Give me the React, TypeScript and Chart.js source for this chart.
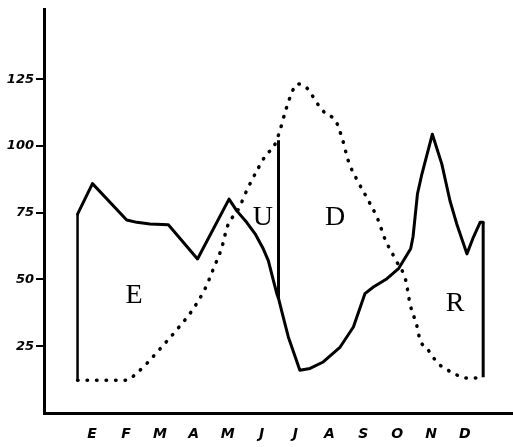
import React, { useEffect, useRef } from "react";
import { Chart, registerables } from "chart.js";

Chart.register(...registerables);

// Month initials (Spanish): Enero ... Diciembre
const months = ["E", "F", "M", "A", "M", "J", "J", "A", "S", "O", "N", "D"];
const yTickValues = [25, 50, 75, 100, 125];

// Solid curve (month position, value)
const precipX = [
  0.57, 1.01, 2.02, 2.32, 2.71, 3.25, 4.11, 5.04, 5.27, 5.56, 5.81, 6.05, 6.2,
  6.35, 6.45, 6.5, 6.64, 6.79, 7.13, 7.43, 7.82, 8.32, 8.71, 9.05, 9.3, 9.7,
  10.05, 10.4, 10.47, 10.6, 10.73, 11.04, 11.32, 11.56, 11.76, 12.06, 12.25,
  12.45, 12.54,
];
const precipY = [
  74.5, 85.9, 72.3, 71.4, 70.8, 70.5, 57.7, 80.1, 75.7, 71.4, 67.1, 61.5, 57.1,
  49.6, 44.7, 42.9, 35.9, 28.5, 16.0, 16.7, 19.1, 24.7, 32.2, 44.7, 47.2, 50.3,
  54.2, 61.5, 66.0, 82.0, 89.4, 104.4, 93.2, 79.5, 70.8, 59.6, 65.8, 71.4,
  71.4,
];

// Dotted curve (month position, value)
const tempX = [
  0.57, 2.02, 2.32, 2.61, 3.01, 3.5, 3.94, 4.33, 4.58, 4.83, 4.99, 5.32, 5.58,
  5.86, 6.13, 6.37, 6.53, 6.72, 6.92, 7.04, 7.23, 7.43, 7.58, 7.87, 8.2, 8.4,
  8.56, 8.86, 9.13, 9.43, 9.64, 9.97, 10.26, 10.38, 10.58, 10.68, 10.88, 11.06,
  11.27, 11.5, 11.77, 12.0, 12.24, 12.54,
];
const tempY = [
  12.3, 12.3, 15.0, 18.5, 24.1, 31.2, 38.2, 46.5, 54.0, 62.1, 69.8, 76.4, 83.8,
  90.7, 96.6, 100.0, 105.3, 113.7, 120.8, 123.2, 122.8, 120.3, 117.1, 112.4,
  109.1, 101.9, 94.4, 86.3, 80.1, 72.6, 65.2, 57.1, 49.4, 40.9, 32.8, 27.2,
  24.3, 20.9, 17.9, 16.0, 14.2, 13.1, 13.1, 13.4,
];

// Inner vertical divider
const dividerX = 6.5;
const dividerY = [42.9, 102.1];

// Zone letters
const zoneLabels = ["E", "U", "D", "R"];
const zoneX = [2.24, 6.04, 8.17, 11.71];
const zoneY = [44, 73.1, 73.1, 41];

const handFont = { family: "'DejaVu Sans', sans-serif", style: "italic" as const, weight: "bold" as const };

export default function App() {
  const canvasRef = useRef<HTMLCanvasElement | null>(null);

  useEffect(() => {
    const canvas = canvasRef.current;
    if (!canvas) return;

    const last = precipX.length - 1;
    const tLast = tempX.length - 1;

    const zonePlugin = {
      id: "zoneLetters",
      afterDatasetsDraw(chart: any) {
        const { ctx, scales } = chart;
        ctx.save();
        ctx.fillStyle = "#000";
        ctx.font = "28px 'Liberation Serif', serif";
        ctx.textAlign = "center";
        ctx.textBaseline = "middle";
        zoneLabels.forEach((t, i) => {
          ctx.fillText(t, scales.x.getPixelForValue(zoneX[i]), scales.y.getPixelForValue(zoneY[i]));
        });
        ctx.restore();
      },
    };

    const chart = new Chart(canvas, {
      type: "line",
      data: {
        datasets: [
          {
            data: precipX.map((x, i) => ({ x, y: precipY[i] })),
            borderColor: "#000",
            borderWidth: 3,
            tension: 0,
            pointRadius: 0,
            borderJoinStyle: "round",
            borderCapStyle: "round",
            fill: false,
          },
          {
            data: tempX.map((x, i) => ({ x, y: tempY[i] })),
            borderColor: "#000",
            borderWidth: 3.5,
            borderDash: [0.5, 9],
            borderCapStyle: "round",
            cubicInterpolationMode: "monotone",
            pointRadius: 0,
            fill: false,
          },
          {
            data: [
              { x: tempX[0], y: tempY[0] },
              { x: precipX[0], y: precipY[0] },
            ],
            borderColor: "#000",
            borderWidth: 2.5,
            pointRadius: 0,
            fill: false,
          },
          {
            data: [
              { x: tempX[tLast], y: tempY[tLast] },
              { x: precipX[last], y: precipY[last] },
            ],
            borderColor: "#000",
            borderWidth: 3,
            pointRadius: 0,
            fill: false,
          },
          {
            data: [
              { x: dividerX, y: dividerY[0] },
              { x: dividerX, y: dividerY[1] },
            ],
            borderColor: "#000",
            borderWidth: 3,
            pointRadius: 0,
            fill: false,
          },
        ],
      },
      options: {
        animation: false,
        responsive: false,
        devicePixelRatio: 1,
        events: [],
        layout: { padding: { top: 8, left: 0, right: 0, bottom: 0 } },
        plugins: { legend: { display: false }, tooltip: { enabled: false } },
        scales: {
          x: {
            type: "linear",
            min: -0.42,
            max: 13.42,
            afterFit: (s: any) => {
              s.height = 34;
            },
            afterBuildTicks: (s: any) => {
              s.ticks = months.map((_, i) => ({ value: i + 1 }));
            },
            grid: { display: false },
            border: { display: true, color: "#000", width: 3 },
            ticks: {
              autoSkip: false,
              maxRotation: 0,
              color: "#000",
              padding: 5,
              font: { ...handFont, size: 14 },
              callback: (_v: any, i: number) => months[i],
            },
          },
          y: {
            type: "linear",
            min: 0,
            max: 151,
            afterFit: (s: any) => {
              s.width = 44;
            },
            afterBuildTicks: (s: any) => {
              s.ticks = yTickValues.map((v) => ({ value: v }));
            },
            grid: {
              display: true,
              drawOnChartArea: false,
              drawTicks: true,
              tickLength: 8,
              color: "#000",
              lineWidth: 2,
            },
            border: { display: true, color: "#000", width: 3 },
            ticks: {
              color: "#000",
              padding: 2,
              font: { ...handFont, size: 13 },
              callback: (v: any) => String(v),
            },
          },
        },
      },
      plugins: [zonePlugin],
    });

    return () => chart.destroy();
  }, []);

  return (
    <div style={{ position: "absolute", left: 0, top: 0, width: 513, height: 447, background: "#fff" }}>
      <canvas ref={canvasRef} width={513} height={447} style={{ display: "block" }} />
    </div>
  );
}
